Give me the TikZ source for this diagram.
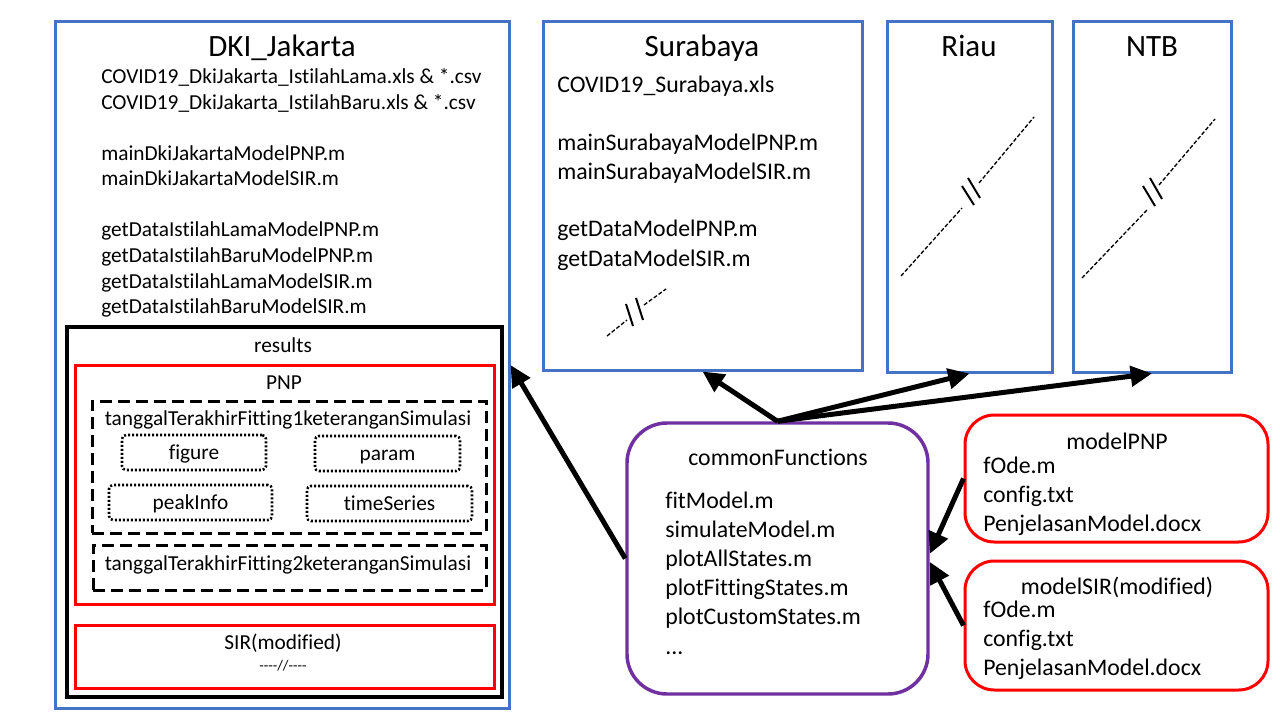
\documentclass[tikz,border=0pt]{standalone}
\usepackage{fontspec}
\setmainfont{Carlito}[Ligatures=NoCommon]
\usetikzlibrary{fit,arrows.meta}

\definecolor{dirblue}{HTML}{4472C4}
\definecolor{modred}{HTML}{FF0000}
\definecolor{funpurple}{HTML}{7030A0}

\newcommand\ftitle{\fontsize{23.25pt}{28pt}\selectfont}
\newcommand\flist{\fontsize{16pt}{19pt}\selectfont}
\newcommand\fcode{\fontsize{17.85pt}{21.75pt}\selectfont}
\newcommand\ftiny{\fontsize{11pt}{12pt}\selectfont}

\begin{document}
\begin{tikzpicture}[
  x=0.75pt, y=-0.75pt,
  region/.style={draw=dirblue, line width=2.25pt, inner sep=0pt},
  resbox/.style={draw=black, line width=2.6pt, inner sep=0pt},
  redbox/.style={draw=modred, line width=2.25pt, inner sep=0pt},
  modbox/.style={redbox, rounded corners=22pt},
  funbox/.style={draw=funpurple, line width=2.6pt, inner sep=0pt, rounded corners=30pt},
  runbox/.style={draw=black, line width=2.25pt, dash pattern=on 9pt off 4.5pt, inner sep=0pt},
  outbox/.style={draw=black, line width=1.9pt, dash pattern=on 1.5pt off 1.5pt,
    rounded corners=3pt, inner sep=0pt},
  outlbl/.style={font=\flist, inner sep=0pt, text height=0.72em, text depth=0.22em, yshift=-3pt},
  txt/.style={inner sep=0pt, anchor=base},
  ltxt/.style={inner sep=0pt, anchor=base west},
  link/.style={line width=3.75pt, -{Triangle[length=16pt, width=15pt]}},
  gapline/.style={line width=1pt, dash pattern=on 3pt off 1.5pt},
  gaptick/.style={line width=1.5pt}
]
  \fill[white] (0,0) rectangle (1280,720);
  \useasboundingbox (0,0) rectangle (1280,720);

  % DKI_Jakarta
  \node[region, fit={(55,22) (509,708)}] (dki) {};
  \node[txt, font=\ftitle] (dkititle) at (282,57) {DKI\_Jakarta};
  \foreach \yb/\txt [count=\i] in {
      84/COVID19\_DkiJakarta\_IstilahLama.xls \& *.csv,
      109.5/COVID19\_DkiJakarta\_IstilahBaru.xls \& *.csv,
      160.5/mainDkiJakartaModelPNP.m,
      186/mainDkiJakartaModelSIR.m,
      237/getDataIstilahLamaModelPNP.m,
      262.5/getDataIstilahBaruModelPNP.m,
      288/getDataIstilahLamaModelSIR.m,
      313.5/getDataIstilahBaruModelSIR.m}
    \node[ltxt, font=\flist] (dkif\i) at (101,\yb) {\txt};

  % results
  \node[resbox, fit={(67,327) (502,697)}] (res) {};
  \node[txt, font=\flist] (restitle) at (283,352) {results};
  \node[redbox, fit={(75,365) (494,604)}] (respnp) {};
  \node[txt, font=\flist] (respnptitle) at (284,389) {PNP};
  \node[runbox, fit={(92,401) (486,533)}] (run1) {};
  \node[txt, font=\flist] (run1title) at (288,425) {tanggalTerakhirFitting1keteranganSimulasi};
  \node[outbox, fit={(122,435) (266,470)}] (figure) {};
  \node[outbox, fit={(315,436) (460,471)}] (param) {};
  \node[outbox, fit={(109,485) (272,520)}] (peak) {};
  \node[outbox, fit={(307,486) (472,521)}] (series) {};
  \node[outlbl] (figuretext) at (figure.center) {figure};
  \node[outlbl] (paramtext) at (param.center) {param};
  \node[outlbl] (peaktext) at (peak.center) {peakInfo};
  \node[outlbl] (seriestext) at (series.center) {timeSeries};
  \node[runbox, fit={(93,545) (486,590)}] (run2) {};
  \node[txt, font=\flist] (run2title) at (288,570) {tanggalTerakhirFitting2keteranganSimulasi};
  \node[redbox, fit={(75,625) (494,688)}] (ressir) {};
  \node[txt, font=\flist] (ressirtitle) at (283,649) {SIR(modified)};
  \node[txt, font=\ftiny] (ressirgap) at (283,670) {-{}-{}-{}-//-{}-{}-{}-};

  % Surabaya
  \node[region, fit={(543,22) (862,370)}] (sby) {};
  \node[txt, font=\ftitle] (sbytitle) at (702,57) {Surabaya};
  \foreach \yb/\txt [count=\i] in {
      93/COVID19\_Surabaya.xls,
      151/mainSurabayaModelPNP.m,
      180/mainSurabayaModelSIR.m,
      237/getDataModelPNP.m,
      266/getDataModelSIR.m}
    \node[ltxt, font=\fcode] (sbyf\i) at (557,\yb) {\txt};
  \draw[gapline] (607,336) -- (627,320) (644,305) -- (666,289);
  \draw[gaptick] (626,304) -- (633,326) (636,298) -- (643,320);

  % Riau and NTB
  \node[region, fit={(887,22) (1052,372)}] (riau) {};
  \node[txt, font=\ftitle] (riautitle) at (969,57) {Riau};
  \draw[gapline] (901,276) -- (962,208) (979,183) -- (1034,117);
  \draw[gaptick] (962,186) -- (974,205) (968,178) -- (980,198);
  \node[region, fit={(1073,22) (1231,372)}] (ntb) {};
  \node[txt, font=\ftitle] (ntbtitle) at (1152,57) {NTB};
  \draw[gapline] (1082,278) -- (1147,210) (1159,185) -- (1215,119);
  \draw[gaptick] (1143,186) -- (1155,206) (1150,178) -- (1162,199);

  % commonFunctions
  \node[funbox, fit={(627,423) (928,694)}] (cf) {};
  \node[txt, font=\fcode] (cftitle) at (778,465) {commonFunctions};
  \foreach \yb/\txt [count=\i] in {
      508/fitModel.m,
      537/simulateModel.m,
      566/plotAllStates.m,
      595/plotFittingStates.m,
      624/plotCustomStates.m}
    \node[ltxt, font=\fcode] (cff\i) at (665,\yb) {\txt};
  \node[ltxt, font=\fcode] (cfmore) at (665,654) {...};

  % models
  \node[modbox, fit={(965,415) (1268,542)}] (mpnp) {};
  \node[txt, font=\fcode] (mpnptitle) at (1117,449) {modelPNP};
  \node[modbox, fit={(965,561) (1268,690)}] (msir) {};
  \node[txt, font=\fcode] (msirtitle) at (1117,594) {modelSIR(modified)};
  \foreach \yb/\txt [count=\i] in {473/fOde.m, 502/config.txt, 531/PenjelasanModel.docx}
    \node[ltxt, font=\fcode] (mpnpf\i) at (983,\yb) {\txt};
  \foreach \yb/\txt [count=\i] in {617/fOde.m, 646/config.txt, 675/PenjelasanModel.docx}
    \node[ltxt, font=\fcode] (msirf\i) at (983,\yb) {\txt};

  % links
  \draw[link] (cf.west) -- (dki.east);
  \draw[link] (cf.north) -- (sby.south);
  \draw[link] (cf.north) -- (riau.south);
  \draw[link] (cf.north) -- (ntb.south);
  \draw[link] (mpnp.west) -- ([yshift=3.5pt]cf.east);
  \draw[link] (msir.west) -- ([yshift=-2.5pt]cf.east);
\end{tikzpicture}
\end{document}
